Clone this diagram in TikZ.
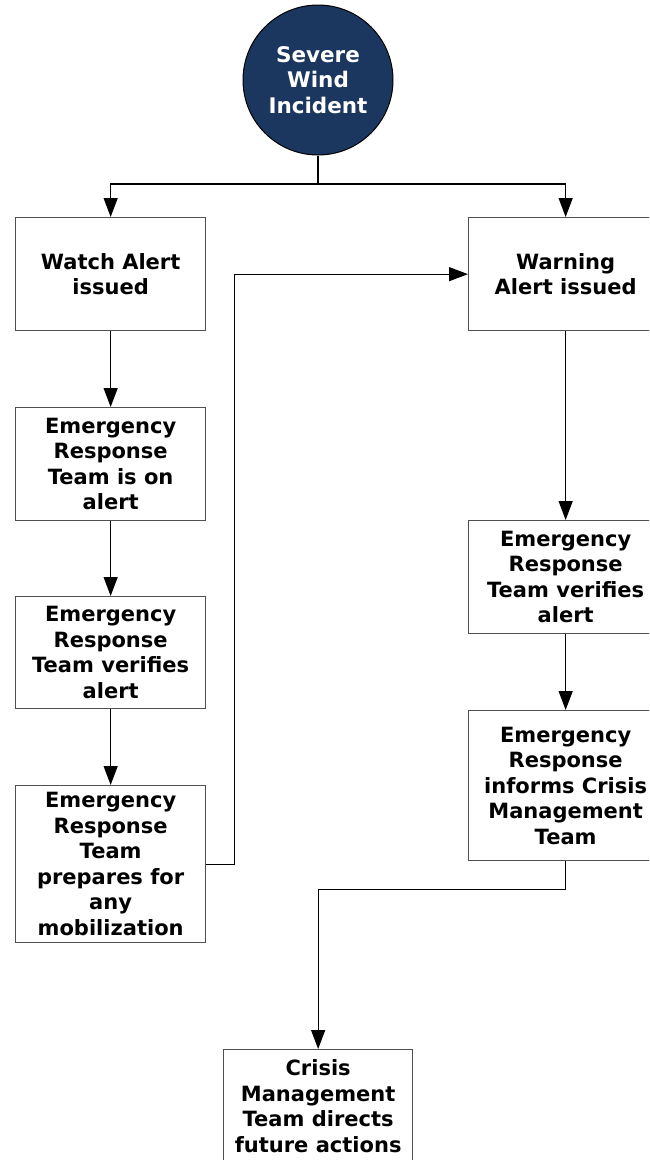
\documentclass[tikz,border=0pt]{standalone}
\usepackage{fontspec}
\setmainfont{DejaVu Sans}
\usetikzlibrary{arrows.meta,positioning}
\definecolor{navy}{HTML}{1B365F}
\definecolor{edge}{HTML}{505050}
\tikzset{
  stepbox/.style={draw=edge, line width=1.3pt, fill=white, align=center, anchor=north west,
    minimum width=190pt, minimum height=113pt, inner sep=2pt,
    font=\bfseries\fontsize{21}{25.5}\selectfont},
  startnode/.style={circle, draw=black, line width=1pt, fill=navy, text=white, align=center,
    minimum size=150pt, inner sep=0pt, font=\bfseries\fontsize{21.5}{25.5}\selectfont},
  flow/.style={-{Triangle[length=19pt,width=14pt]}, draw=black, line width=1.3pt},
  link/.style={draw=black, line width=1.3pt},
}
\begin{document}
\begin{tikzpicture}[x=1pt, y=-1pt]
\clip (0,0) rectangle (649,1160);
\node[startnode] (wind) at (318,80) {Severe\\Wind\\Incident};
% left column
\node[stepbox] (watch) at (15,217) {Watch Alert\\issued};
\node[stepbox] (alert) at (15,407) {Emergency\\Response\\Team is on\\alert};
\node[stepbox, minimum height=112pt] (lverify) at (15,596) {Emergency\\Response\\Team verifies\\alert};
\node[stepbox, minimum height=157pt] (prep) at (15,785) {Emergency\\Response\\Team\\prepares for\\any\\mobilization};
% right column
\node[stepbox, minimum width=194pt] (warn) at (468,217) {Warning\\Alert issued};
\node[stepbox, minimum width=194pt] (rverify) at (468,520) {Emergency\\Response\\Team verifies\\alert};
\node[stepbox, minimum width=194pt, minimum height=150pt] (inform) at (468,710) {Emergency\\Response\\informs Crisis\\Management\\Team};
% end
\node[stepbox, minimum width=189pt] (crisis) at (223,1049) {Crisis\\Management\\Team directs\\future actions};
\coordinate (split) at (318,184);
\draw[link] (wind) -- (split);
\draw[flow] (split) -| (watch);
\draw[flow] (split) -| (warn);
\draw[flow] (watch) -- (alert);
\draw[flow] (alert) -- (lverify);
\draw[flow] (lverify) -- (prep);
\draw[flow] (prep.east) -- ++(28,0) |- (warn.west);
\draw[flow] (warn) -- (rverify);
\draw[flow] (rverify) -- (inform);
\draw[flow] (inform.south) -- ++(0,28) -| (crisis.north);
\end{tikzpicture}
\end{document}
